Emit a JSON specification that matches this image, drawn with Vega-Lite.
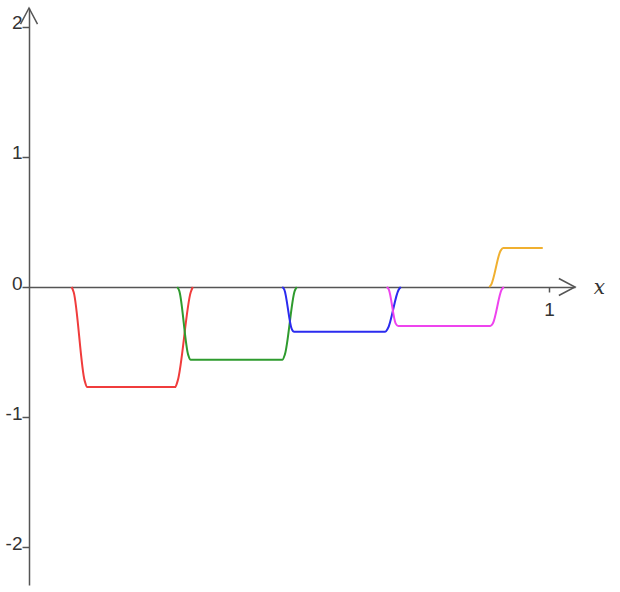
{
  "$schema": "https://vega.github.io/schema/vega-lite/v6.json",
  "width": 546,
  "height": 577,
  "autosize": {"type": "none"},
  "padding": {"left": 29, "top": 8, "right": 45, "bottom": 7},
  "background": "white",
  "config": {"view": {"stroke": null}},
  "datasets": {
    "curves": [
      {"series": "a", "x": 0.082, "y": 0},
      {"series": "a", "x": 0.086, "y": -0.04},
      {"series": "a", "x": 0.107, "y": -0.72},
      {"series": "a", "x": 0.112, "y": -0.77},
      {"series": "a", "x": 0.281, "y": -0.77},
      {"series": "a", "x": 0.286, "y": -0.72},
      {"series": "a", "x": 0.311, "y": -0.04},
      {"series": "a", "x": 0.315, "y": 0},
      {"series": "b", "x": 0.285, "y": 0},
      {"series": "b", "x": 0.289, "y": -0.03},
      {"series": "b", "x": 0.306, "y": -0.52},
      {"series": "b", "x": 0.311, "y": -0.56},
      {"series": "b", "x": 0.487, "y": -0.56},
      {"series": "b", "x": 0.492, "y": -0.52},
      {"series": "b", "x": 0.511, "y": -0.03},
      {"series": "b", "x": 0.515, "y": 0},
      {"series": "c", "x": 0.487, "y": 0},
      {"series": "c", "x": 0.491, "y": -0.02},
      {"series": "c", "x": 0.505, "y": -0.32},
      {"series": "c", "x": 0.51, "y": -0.345},
      {"series": "c", "x": 0.685, "y": -0.345},
      {"series": "c", "x": 0.69, "y": -0.32},
      {"series": "c", "x": 0.711, "y": -0.02},
      {"series": "c", "x": 0.715, "y": 0},
      {"series": "d", "x": 0.688, "y": 0},
      {"series": "d", "x": 0.692, "y": -0.02},
      {"series": "d", "x": 0.705, "y": -0.28},
      {"series": "d", "x": 0.71, "y": -0.3},
      {"series": "d", "x": 0.887, "y": -0.3},
      {"series": "d", "x": 0.892, "y": -0.28},
      {"series": "d", "x": 0.909, "y": -0.02},
      {"series": "d", "x": 0.913, "y": 0},
      {"series": "e", "x": 0.885, "y": 0},
      {"series": "e", "x": 0.889, "y": 0.02},
      {"series": "e", "x": 0.907, "y": 0.28},
      {"series": "e", "x": 0.912, "y": 0.3},
      {"series": "e", "x": 0.988, "y": 0.3}
    ],
    "arrows": [
      {"x": 1.05, "y": 0, "dir": "right"},
      {"x": 0, "y": 2.146, "dir": "up"}
    ]
  },
  "layer": [
    {
      "data": {"name": "curves"},
      "mark": {"type": "line", "interpolate": "monotone", "strokeWidth": 2},
      "encoding": {
        "x": {
          "field": "x", "type": "quantitative",
          "scale": {"domain": [0, 1.05], "nice": false, "zero": false},
          "axis": {
            "orient": "bottom", "offset": -298, "values": [1], "labelExpr": "toString(datum.value)", "grid": false,
            "domainColor": "#555", "domainWidth": 1.5,
            "tickColor": "#555", "tickWidth": 1.5, "tickSize": 5,
            "labelFont": "Liberation Sans", "labelFontSize": 19, "labelColor": "#333",
            "labelPadding": 8, "labelFlush": false,
            "title": "x", "titleFont": "DejaVu Serif", "titleFontStyle": "italic",
            "titleFontWeight": "normal", "titleFontSize": 20, "titleColor": "#333",
            "titleX": 570, "titleY": 0, "titleAlign": "center", "titleBaseline": "middle"
          }
        },
        "y": {
          "field": "y", "type": "quantitative",
          "scale": {"domain": [-2.292, 2.146], "nice": false, "zero": false},
          "axis": {
            "orient": "left", "values": [-2, -1, 0, 1, 2], "labelExpr": "toString(datum.value)", "grid": false,
            "domainColor": "#555", "domainWidth": 1.5,
            "tickColor": "#555", "tickWidth": 1.5, "tickSize": 7,
            "labelFont": "Liberation Sans", "labelFontSize": 19, "labelColor": "#333",
            "labelPadding": 0, "labelOffset": -4, "labelFlush": false,
            "title": null
          }
        },
        "color": {
          "field": "series", "type": "nominal",
          "scale": {"domain": ["a", "b", "c", "d", "e"], "range": ["#f03c3c", "#2e9b2e", "#2b2bef", "#ee44ee", "#f0b030"]},
          "legend": null
        }
      }
    },
    {
      "data": {"name": "arrows"},
      "mark": {"type": "point", "filled": false, "size": 289, "strokeWidth": 1.5, "color": "#555", "opacity": 1},
      "encoding": {
        "x": {"field": "x", "type": "quantitative"},
        "y": {"field": "y", "type": "quantitative"},
        "shape": {
          "field": "dir", "type": "nominal",
          "scale": {"domain": ["right", "up"], "range": ["M-1.9,-1L0,0L-1.9,1", "M-1,1.9L0,0L1,1.9"]},
          "legend": null
        }
      }
    }
  ]
}
